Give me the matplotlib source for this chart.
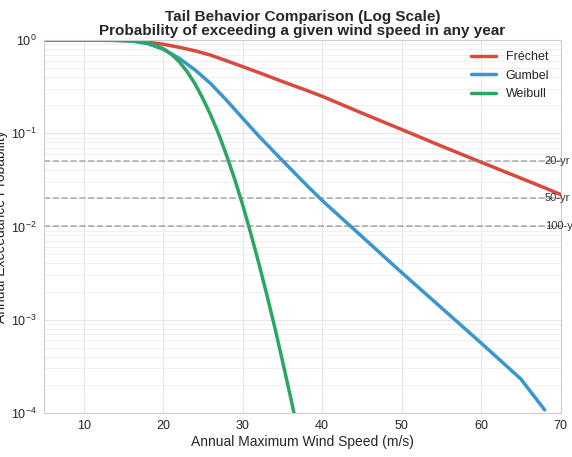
import matplotlib
matplotlib.use("Agg")
import matplotlib.pyplot as plt
import seaborn as sns
import numpy as np

sns.set_style("whitegrid")
plt.rcParams['font.family'] = ['Liberation Sans', 'DejaVu Sans']

wind = [5, 10, 14, 16, 18, 20, 22, 24, 26, 28, 30, 32, 35, 38, 40, 45, 50, 55, 60, 65, 68, 70]
frechet = [1.0, 1.0, 0.997, 0.985, 0.955, 0.905, 0.84, 0.77, 0.69, 0.60, 0.52, 0.45, 0.36, 0.29, 0.25, 0.165, 0.11, 0.073, 0.049, 0.033, 0.026, 0.022]
gumbel_x = [5, 10, 14, 16, 18, 20, 22, 24, 26, 28, 30, 32, 35, 38, 40, 45, 50, 55, 60, 65, 68]
gumbel = [1.0, 1.0, 0.997, 0.98, 0.92, 0.80, 0.64, 0.48, 0.34, 0.225, 0.145, 0.094, 0.051, 0.028, 0.019, 0.0078, 0.0032, 0.00134, 0.00056, 0.00023, 0.000107]
weibull_x = [5, 10, 13, 15, 16, 17, 18, 19, 20, 21, 22, 23, 24, 25, 26, 27, 28, 29, 30, 31, 32, 33, 34, 35, 36, 37, 38, 39, 40]
weibull = [1.0, 1.0, 0.999, 0.993, 0.983, 0.965, 0.935, 0.885, 0.81, 0.71, 0.59, 0.46, 0.34, 0.235, 0.155, 0.097, 0.057, 0.032, 0.017, 0.0085, 0.0041, 0.0019, 0.00085, 0.00036, 0.00015, 0.00006, 0.000022, 0.000008, 0.0000027]

ret_probs = [0.05, 0.02, 0.01]
ret_labels = ["20-yr", "50-yr", "100-yr"]

fig, ax = plt.subplots(figsize=(5.72, 4.57), dpi=100)
ax.plot(wind, frechet, color="#d94a3d", lw=2.5, label="Fréchet")
ax.plot(gumbel_x, gumbel, color="#3a96cf", lw=2.5, label="Gumbel")
ax.plot(weibull_x, weibull, color="#2aa760", lw=2.5, label="Weibull")
for p, l in zip(ret_probs, ret_labels):
    ax.axhline(p, color="gray", ls="--", lw=1.2, alpha=0.6)
    ax.text(68, p, l, fontsize=8, va="center", ha="left", color="#333")
ax.set_yscale("log")
ax.set_xlim(5, 70)
ax.set_ylim(1e-4, 1)
ax.grid(True, which="major", color="#e6e6e6")
ax.grid(True, which="minor", color="#eeeeee", lw=0.6)
for s in ax.spines.values():
    s.set_color("#cccccc")
ax.set_xlabel("Annual Maximum Wind Speed (m/s)", fontsize=10, labelpad=2)
ax.set_ylabel("Annual Exceedance Probability", fontsize=10, labelpad=2)
ax.set_title("Tail Behavior Comparison (Log Scale)\nProbability of exceeding a given wind speed in any year",
             fontsize=11, fontweight="bold", linespacing=1.0, pad=4)
ax.tick_params(labelsize=9, pad=2)
ax.legend(loc="upper right", fontsize=9, frameon=False)
fig.subplots_adjust(left=0.077, right=0.98, top=0.912, bottom=0.097)
fig.savefig("out.png", dpi=100)
